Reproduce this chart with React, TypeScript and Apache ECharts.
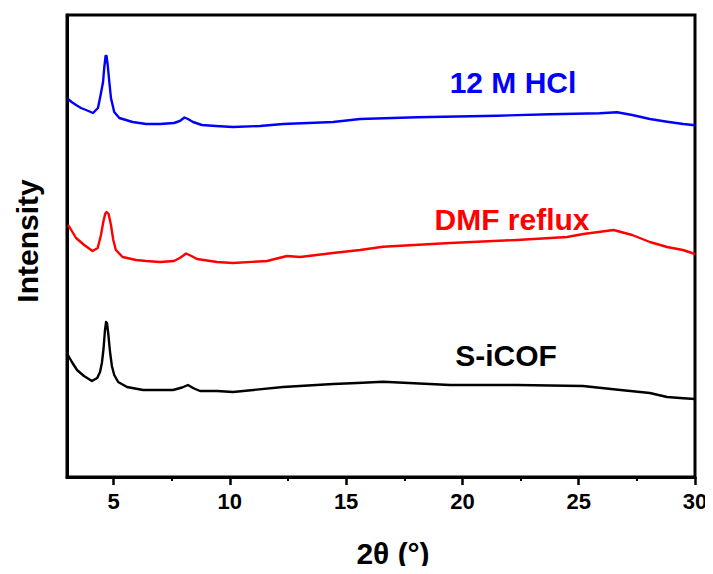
import React, { useEffect, useRef } from "react";
import * as echarts from "echarts";

// 2θ (degrees) and intensity (a.u.), offset-stacked
const hclData: [number, number][] = [
  [3.04, 378], [3.2, 375], [3.39, 372], [3.6, 369], [3.82, 367], [4.12, 364],
  [4.33, 369], [4.42, 379], [4.55, 395], [4.6, 409], [4.66, 421], [4.7, 421],
  [4.75, 412], [4.82, 395], [4.89, 379], [5.03, 365], [5.25, 359], [5.82, 355],
  [6.4, 353], [7.0, 353], [7.6, 354], [7.85, 356], [8.05, 359.5], [8.2, 358],
  [8.42, 355], [8.8, 352], [9.4, 351], [10.14, 350], [11.3, 351],
  [12.29, 353], [14.44, 355], [15.6, 358], [18.05, 359.7], [21.5, 361.3],
  [23.77, 362.7], [25.9, 363.7], [26.65, 364.7], [27.3, 362], [28.06, 358],
  [28.8, 355.3], [29.5, 353], [30, 351.7],
];

const dmfData: [number, number][] = [
  [3.04, 252], [3.13, 249], [3.39, 239], [3.74, 232], [4.1, 226], [4.32, 229],
  [4.46, 242], [4.56, 255], [4.64, 263], [4.7, 265], [4.79, 263], [4.89, 252],
  [4.99, 237], [5.1, 227], [5.39, 220], [5.97, 217], [6.4, 216], [7.0, 215],
  [7.6, 216], [7.85, 219], [8.12, 223.5], [8.35, 221], [8.59, 218], [9.45, 215],
  [10.14, 214], [11.6, 216], [12.2, 219.5], [12.46, 221], [13.02, 220], [14.44, 224],
  [15.6, 227], [16.59, 230.3], [19.47, 234], [22.35, 237], [24.5, 240], [25.2, 243],
  [26.5, 247], [27.3, 242], [28.06, 235], [28.8, 230], [29.48, 227], [30, 223],
];

const sicofData: [number, number][] = [
  [3.04, 122], [3.21, 115], [3.43, 107], [3.73, 101], [4.07, 96], [4.3, 99],
  [4.42, 105], [4.5, 114], [4.57, 128], [4.63, 146], [4.68, 155], [4.72, 154],
  [4.78, 142], [4.85, 125], [4.93, 111], [5.03, 102], [5.2, 95], [5.58, 90],
  [6.27, 87], [7.56, 87], [7.95, 89.5], [8.2, 92], [8.46, 88.5], [8.72, 86],
  [9.45, 86], [10.14, 85], [12.29, 90], [14.44, 93], [15.47, 94], [16.59, 95.3],
  [19.47, 92], [22.35, 92], [25.18, 91], [26.8, 87], [28.06, 84], [28.8, 80],
  [29.5, 78.7], [30, 78],
];

const majorTicks = [5, 10, 15, 20, 25, 30];
const minorTicks = [7.5, 12.5, 17.5, 22.5, 27.5];

const seriesNames = ["12 M HCl", "DMF reflux", "S-iCOF"];
const seriesColors = ["#0000FF", "#FF0000", "#000000"];

const FONT = "Arial, 'Liberation Sans', sans-serif";

export default function App() {
  const ref = useRef<HTMLDivElement>(null);

  useEffect(() => {
    if (!ref.current) return;
    const chart = echarts.init(ref.current, undefined, { renderer: "svg" });
    const datasets = [hclData, dmfData, sicofData];
    chart.setOption({
      animation: false,
      backgroundColor: "#ffffff",
      grid: {
        left: 67,
        right: 18,
        top: 15,
        bottom: 97,
        show: true,
        borderColor: "#000",
        borderWidth: 3,
      },
      xAxis: [
        {
          type: "value",
          min: 3,
          max: 30,
          position: "bottom",
          axisLine: { show: true, lineStyle: { color: "#000", width: 3 } },
          axisTick: {
            show: true,
            customValues: majorTicks,
            length: 8,
            inside: false,
            lineStyle: { color: "#000", width: 2.5 },
          },
          axisLabel: {
            customValues: majorTicks,
            margin: 13,
            color: "#000",
            fontSize: 22,
            fontWeight: "bold",
            fontFamily: FONT,
          },
          splitLine: { show: false },
        },
        {
          type: "value",
          min: 3,
          max: 30,
          position: "bottom",
          axisLine: { show: false },
          axisTick: {
            show: true,
            customValues: minorTicks,
            length: 4,
            inside: false,
            lineStyle: { color: "#000", width: 2 },
          },
          axisLabel: { show: false },
          splitLine: { show: false },
        },
      ],
      yAxis: {
        type: "value",
        min: 0,
        max: 462,
        axisLine: { show: true, lineStyle: { color: "#000", width: 3 } },
        axisTick: { show: false },
        axisLabel: { show: false },
        splitLine: { show: false },
      },
      series: datasets.map((d, i) => ({
        name: seriesNames[i],
        type: "line",
        xAxisIndex: 0,
        data: d,
        showSymbol: false,
        smooth: false,
        lineStyle: { color: seriesColors[i], width: 2.4, join: "round" },
        itemStyle: { color: seriesColors[i] },
      })),
      graphic: [
        {
          type: "text",
          x: 513,
          y: 82,
          style: {
            text: seriesNames[0],
            fill: seriesColors[0],
            font: `bold 30px ${FONT}`,
            textAlign: "center",
            textVerticalAlign: "middle",
          },
        },
        {
          type: "text",
          x: 512,
          y: 219,
          style: {
            text: seriesNames[1],
            fill: seriesColors[1],
            font: `bold 30px ${FONT}`,
            textAlign: "center",
            textVerticalAlign: "middle",
          },
        },
        {
          type: "text",
          x: 506,
          y: 355,
          style: {
            text: seriesNames[2],
            fill: seriesColors[2],
            font: `bold 30px ${FONT}`,
            textAlign: "center",
            textVerticalAlign: "middle",
          },
        },
        {
          type: "text",
          x: 393,
          y: 553,
          style: {
            text: "2θ (°)",
            fill: "#000",
            font: `bold 30px ${FONT}`,
            textAlign: "center",
            textVerticalAlign: "middle",
          },
        },
        {
          type: "text",
          x: 27,
          y: 241,
          rotation: Math.PI / 2,
          style: {
            text: "Intensity",
            fill: "#000",
            font: `bold 30px ${FONT}`,
            textAlign: "center",
            textVerticalAlign: "middle",
          },
        },
      ],
    });
    return () => chart.dispose();
  }, []);

  return <div ref={ref} style={{ width: 713, height: 574, margin: -8 }} />;
}
